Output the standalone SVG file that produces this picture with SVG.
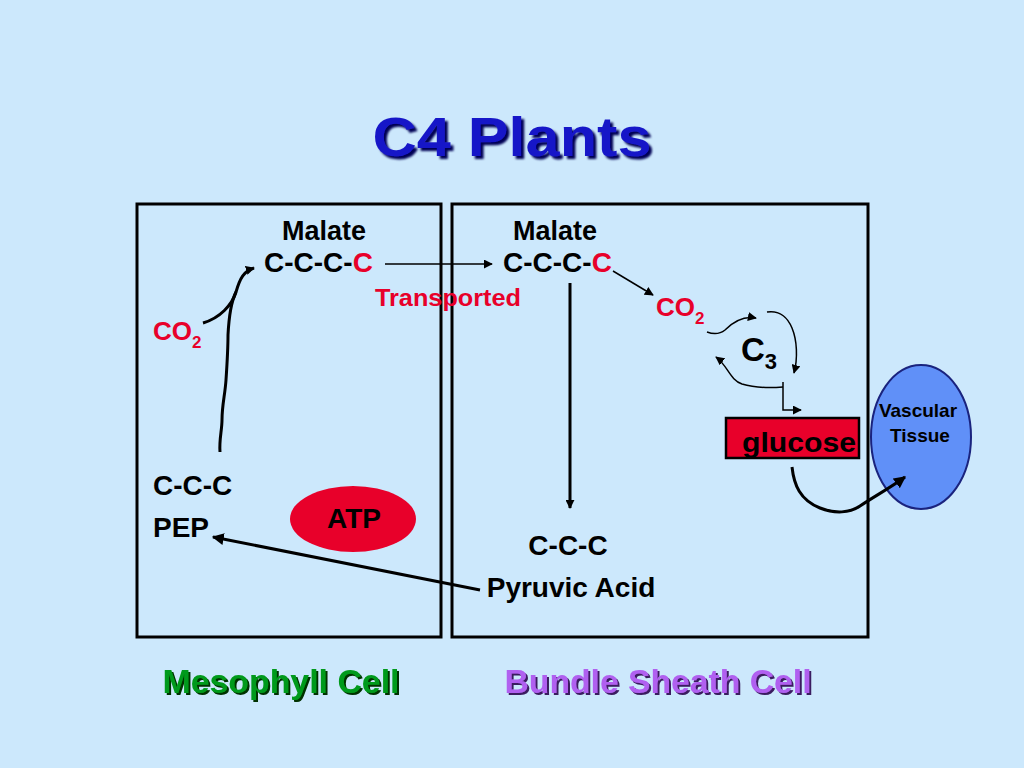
<svg xmlns="http://www.w3.org/2000/svg" width="1024" height="768" viewBox="0 0 1024 768">
<defs>
<marker id="ah" viewBox="0 0 10 10" refX="9" refY="5" markerWidth="9" markerHeight="9" markerUnits="userSpaceOnUse" orient="auto">
<path d="M0,0 L10,5 L0,10 z" fill="#000"/>
</marker>
<marker id="ahb" viewBox="0 0 10 10" refX="9" refY="5" markerWidth="12" markerHeight="12" markerUnits="userSpaceOnUse" orient="auto">
<path d="M0,0 L10,5 L0,10 z" fill="#000"/>
</marker>
<filter id="shT" x="-10%" y="-20%" width="120%" height="150%">
<feDropShadow dx="3" dy="3" stdDeviation="0.8" flood-color="#000055" flood-opacity="1"/>
</filter>
<filter id="shG" x="-10%" y="-20%" width="120%" height="150%">
<feDropShadow dx="2" dy="2" stdDeviation="0.5" flood-color="#003300" flood-opacity="1"/>
</filter>
<filter id="shP" x="-10%" y="-20%" width="120%" height="150%">
<feDropShadow dx="2" dy="2" stdDeviation="0.5" flood-color="#3A1A60" flood-opacity="1"/>
</filter>
<style>
text{font-family:"Liberation Sans",Arial,sans-serif;font-weight:bold}
.k{fill:#000}
.r{fill:#E8002A}
.box{fill:none;stroke:#000;stroke-width:3}
.thin{fill:none;stroke:#000;stroke-width:1.5}
.thick{fill:none;stroke:#000;stroke-width:3}
</style>
</defs>
<rect width="1024" height="768" fill="#CCE8FC"/>
<g id="title">
<text x="512" y="156" font-size="56" text-anchor="middle" fill="#1818C8" font-family="DejaVu Sans" textLength="279" lengthAdjust="spacingAndGlyphs" filter="url(#shT)">C4 Plants</text>
</g>
<g id="mesophyll-cell">
<rect class="box" x="137" y="204" width="304" height="433"/>
</g>
<g id="bundle-sheath-cell">
<rect class="box" x="452" y="204" width="416" height="433"/>
</g>
<g id="malate-left">
<text x="324" y="240" font-size="27" text-anchor="middle" class="k">Malate</text>
<text x="264" y="272" font-size="28" class="k">C-C-C-<tspan class="r">C</tspan></text>
</g>
<g id="malate-right">
<text x="555" y="240" font-size="27" text-anchor="middle" class="k">Malate</text>
<text x="503" y="272" font-size="28" class="k">C-C-C-<tspan class="r">C</tspan></text>
</g>
<g id="transported">
<text x="375" y="306" font-size="24" class="r" textLength="146" lengthAdjust="spacingAndGlyphs">Transported</text>
</g>
<g id="co2-left">
<text x="153" y="340" font-size="26" class="r">CO<tspan font-size="17" dy="8">2</tspan></text>
</g>
<g id="pep">
<text x="153" y="495" font-size="28" class="k">C-C-C</text>
<text x="153" y="537" font-size="28" class="k">PEP</text>
</g>
<g id="atp">
<ellipse cx="353" cy="519" rx="63" ry="33" fill="#E8002A"/>
<text x="354" y="528" font-size="28" text-anchor="middle" class="k">ATP</text>
</g>
<g id="pyruvic-acid">
<text x="568" y="555" font-size="28" text-anchor="middle" class="k">C-C-C</text>
<text x="571" y="597" font-size="28" text-anchor="middle" class="k">Pyruvic Acid</text>
</g>
<g id="co2-right">
<text x="656" y="316" font-size="26" class="r">CO<tspan font-size="17" dy="8">2</tspan></text>
</g>
<g id="c3">
<text x="741" y="361" font-size="33" class="k">C<tspan font-size="22" dy="8">3</tspan></text>
</g>
<g id="glucose">
<rect x="726" y="418" width="133" height="40" fill="#E8002A" stroke="#000" stroke-width="2.5"/>
<text x="742" y="452" font-size="27" class="k" textLength="114" lengthAdjust="spacingAndGlyphs">glucose</text>
</g>
<g id="vascular-tissue">
<ellipse cx="921" cy="437" rx="50" ry="72" fill="#6090F8" stroke="#1A237E" stroke-width="2"/>
<text x="918" y="417" font-size="19" text-anchor="middle" class="k">Vascular</text>
<text x="920" y="442" font-size="19" text-anchor="middle" class="k">Tissue</text>
</g>
<g id="labels">
<text x="281" y="693" font-size="34" text-anchor="middle" fill="#009A1A" textLength="237" lengthAdjust="spacingAndGlyphs" filter="url(#shG)">Mesophyll Cell</text>
<text x="658" y="693" font-size="34" text-anchor="middle" fill="#B060F0" textLength="307" lengthAdjust="spacingAndGlyphs" filter="url(#shP)">Bundle Sheath Cell</text>
</g>
<g id="connectors">
<path class="thin" d="M385,264 L492,264" marker-end="url(#ah)"/>
<path class="thick" d="M203,323 C220,318 232,305 236,292 C240,278 244,271 254,268" marker-end="url(#ah)"/>
<path class="thick" d="M220,452 C219,440 222,430 222,420 C222,405 225,395 226,380 C227,365 228,350 228,335 C229,315 232,300 236,292"/>
<path class="thick" d="M570,283 L570,508" marker-end="url(#ah)"/>
<path class="thin" d="M613,271 L653,295" marker-end="url(#ah)"/>
<path class="thick" d="M480,590 L213,537" marker-end="url(#ahb)"/>
<path class="thin" d="M707,332 C715,335 720,334 725,330 C735,320 745,316 756,318" marker-end="url(#ah)"/>
<path class="thin" d="M767,312 C780,310 788,318 792,328 C797,340 798,358 794,373" marker-end="url(#ah)"/>
<path class="thin" d="M783,387 C770,388 755,388 742,384 C730,380 728,366 716,357" marker-end="url(#ah)"/>
<path class="thin" d="M783,382 L783,410 L801,410" marker-end="url(#ah)"/>
<path class="thick" d="M792,467 C794,485 800,500 820,508 C835,514 850,513 860,506 C875,496 890,488 905,477" marker-end="url(#ahb)"/>
</g>
</svg>
